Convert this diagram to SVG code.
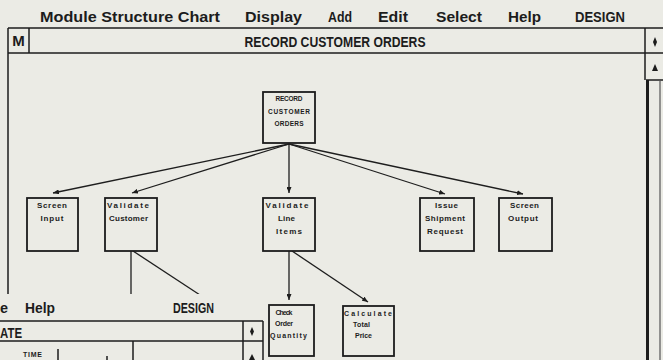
<svg xmlns="http://www.w3.org/2000/svg" width="663" height="360" viewBox="0 0 663 360">
<defs>
<marker id="ah" markerUnits="userSpaceOnUse" markerWidth="7" markerHeight="5" refX="6" refY="2.5" orient="auto">
<path d="M0,0 L6,2.5 L0,5 z" fill="#1e1e1e"/>
</marker>
<style>
.bg{fill:#ebebe5}
.menu{font-family:"Liberation Sans",Arial,sans-serif;font-size:15px;font-weight:bold;fill:#1c1c1c}
.frame{stroke:#1c1c1c;stroke-width:1.5;fill:none}
.box{fill:#ebebe5;stroke:#1c1c1c;stroke-width:1.8}
.t9{font-family:"Liberation Sans",Arial,sans-serif;font-size:8px;font-weight:bold;fill:#1c1c1c;text-anchor:middle}
.t7{font-family:"Liberation Sans",Arial,sans-serif;font-size:6.5px;font-weight:bold;fill:#1c1c1c;text-anchor:middle}
.t8{font-family:"Liberation Sans",Arial,sans-serif;font-size:7px;font-weight:bold;fill:#1c1c1c;text-anchor:middle}
.conn line{stroke:#1e1e1e;stroke-width:1.3;fill:none}
.arr{marker-end:url(#ah)}
.icon{fill:#1c1c1c}
</style>
</defs>
<rect class="bg" x="0" y="0" width="663" height="360"/>

<!-- main menu bar -->
<g id="menubar">
<text class="menu" x="40" y="22" textLength="180" lengthAdjust="spacingAndGlyphs">Module Structure Chart</text>
<text class="menu" x="245" y="22" textLength="57" lengthAdjust="spacingAndGlyphs">Display</text>
<text class="menu" x="328" y="22" textLength="24" lengthAdjust="spacingAndGlyphs">Add</text>
<text class="menu" x="378" y="22" textLength="30" lengthAdjust="spacingAndGlyphs">Edit</text>
<text class="menu" x="436" y="22" textLength="46" lengthAdjust="spacingAndGlyphs">Select</text>
<text class="menu" x="508" y="22" textLength="33" lengthAdjust="spacingAndGlyphs">Help</text>
<text class="menu" x="575" y="22" textLength="50" lengthAdjust="spacingAndGlyphs">DESIGN</text>
</g>

<!-- main window frame -->
<g id="window">
<line class="frame" x1="8" y1="28" x2="663" y2="28"/>
<line class="frame" x1="8" y1="53" x2="663" y2="53"/>
<line class="frame" x1="8" y1="28" x2="8" y2="300"/>
<line class="frame" x1="29" y1="28" x2="29" y2="53"/>
<line class="frame" x1="645" y1="28" x2="645" y2="80"/>
<line class="frame" x1="646" y1="80" x2="663" y2="80"/>
<line x1="647.5" y1="80" x2="647.5" y2="360" stroke="#1c1c1c" stroke-width="3"/>
<line x1="660" y1="80" x2="660" y2="360" stroke="#555" stroke-width="1.2"/>
<text class="menu" x="18.5" y="46" text-anchor="middle" font-size="13">M</text>
<text class="menu" x="335" y="47" text-anchor="middle" textLength="181" lengthAdjust="spacingAndGlyphs">RECORD CUSTOMER ORDERS</text>
<polygon class="icon" points="655,37 657,42 655,47 653,42"/>
<polygon class="icon" points="655,64 658,71 652,71"/>
</g>

<!-- connectors -->
<g id="connectors" class="conn">
<line class="arr" x1="289" y1="144" x2="53" y2="193"/>
<line class="arr" x1="289" y1="144" x2="132" y2="193"/>
<line class="arr" x1="289" y1="144" x2="289" y2="193"/>
<line class="arr" x1="289" y1="144" x2="445" y2="194"/>
<line class="arr" x1="289" y1="144" x2="523" y2="194"/>
<line x1="131" y1="251" x2="131" y2="300"/>
<line x1="133" y1="251" x2="200" y2="295"/>
<line class="arr" x1="289" y1="251" x2="289" y2="300"/>
<line class="arr" x1="292" y1="251" x2="368" y2="302"/>
</g>

<g id="n-root">
<rect class="box" x="263" y="92" width="52" height="51"/>
<text class="t7" x="289" y="101" textLength="27" lengthAdjust="spacing">RECORD</text>
<text class="t7" x="289" y="114" textLength="42" lengthAdjust="spacing">CUSTOMER</text>
<text class="t7" x="289" y="126" textLength="29" lengthAdjust="spacing">ORDERS</text>
</g>

<g id="n-screen-input">
<rect class="box" x="27" y="198" width="51" height="53"/>
<text class="t9" x="52" y="208" textLength="30" lengthAdjust="spacing">Screen</text>
<text class="t9" x="52" y="221" textLength="23" lengthAdjust="spacing">Input</text>
</g>

<g id="n-validate-customer">
<rect class="box" x="105" y="198" width="52" height="53"/>
<text class="t9" x="128" y="208" textLength="42" lengthAdjust="spacing">Validate</text>
<text class="t9" x="128.5" y="221" textLength="39" lengthAdjust="spacing">Customer</text>
</g>

<g id="n-validate-line-items">
<rect class="box" x="263" y="198" width="52" height="53"/>
<text class="t9" x="287" y="208" textLength="43" lengthAdjust="spacing">Validate</text>
<text class="t9" x="286.5" y="221" textLength="17" lengthAdjust="spacing">Line</text>
<text class="t9" x="289" y="234" textLength="26" lengthAdjust="spacing">Items</text>
</g>

<g id="n-issue-shipment-request">
<rect class="box" x="420" y="198" width="54" height="53"/>
<text class="t9" x="446.5" y="208" textLength="23" lengthAdjust="spacing">Issue</text>
<text class="t9" x="445" y="221" textLength="40" lengthAdjust="spacing">Shipment</text>
<text class="t9" x="445" y="234" textLength="36" lengthAdjust="spacing">Request</text>
</g>

<g id="n-screen-output">
<rect class="box" x="499" y="198" width="53" height="53"/>
<text class="t9" x="524.5" y="208" textLength="29" lengthAdjust="spacing">Screen</text>
<text class="t9" x="523" y="221" textLength="30" lengthAdjust="spacing">Output</text>
</g>

<g id="n-check-order-quantity">
<rect class="box" x="269" y="305" width="45" height="51"/>
<text class="t8" x="284" y="315" textLength="17" lengthAdjust="spacing">Check</text>
<text class="t8" x="284" y="326" textLength="18" lengthAdjust="spacing">Order</text>
<text class="t8" x="288.5" y="338" textLength="37" lengthAdjust="spacing">Quantity</text>
</g>

<g id="n-calculate-total-price">
<rect class="box" x="343" y="306" width="51" height="50"/>
<text class="t8" x="368" y="316" textLength="48" lengthAdjust="spacing">Calculate</text>
<text class="t8" x="361.5" y="327" textLength="17" lengthAdjust="spacing">Total</text>
<text class="t8" x="363.5" y="338" textLength="17" lengthAdjust="spacing">Price</text>
</g>

<!-- overlapping lower-left window -->
<g id="window2">
<rect class="bg" x="0" y="294" width="264" height="66"/>
<text class="menu" x="0" y="313" textLength="8" lengthAdjust="spacingAndGlyphs">e</text>
<text class="menu" x="25" y="313" textLength="30" lengthAdjust="spacingAndGlyphs">Help</text>
<text class="menu" x="173" y="313" textLength="41" lengthAdjust="spacingAndGlyphs">DESIGN</text>
<line class="frame" x1="0" y1="321" x2="263" y2="321"/>
<line class="frame" x1="0" y1="341" x2="263" y2="341"/>
<line class="frame" x1="263" y1="321" x2="263" y2="360"/>
<line class="frame" x1="243" y1="321" x2="243" y2="360"/>
<text class="menu" x="0" y="338" font-size="14" textLength="22" lengthAdjust="spacingAndGlyphs">ATE</text>
<polygon class="icon" points="252,327 254,331.5 252,336 250,331.5"/>
<polygon class="icon" points="252,354 255,360 249,360"/>
<text class="t8" x="32.5" y="357" textLength="19" lengthAdjust="spacing">TIME</text>
<line class="frame" x1="58" y1="349" x2="58" y2="360"/>
<line class="frame" x1="107" y1="356" x2="107" y2="360"/>
<line class="frame" x1="133" y1="341" x2="133" y2="360"/>
</g>
</svg>
